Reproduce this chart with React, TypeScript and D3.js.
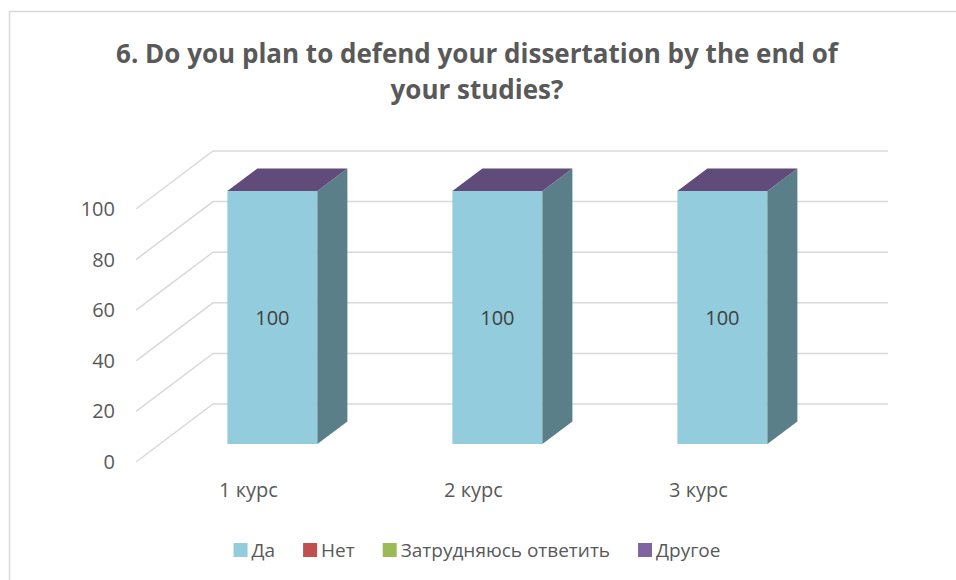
import React from 'react'
import * as d3 from 'd3'

const categories = ['1 курс', '2 курс', '3 курс']
const seriesNames = ['Да', 'Нет', 'Затрудняюсь ответить', 'Другое']
const seriesColors = ['#93cddd', '#c0504d', '#9bbb59', '#8064a2']
const yesValues = [100, 100, 100]
const noValues = [0, 0, 0]
const hardValues = [0, 0, 0]
const otherValues = [0, 0, 0]
const yTicks = [0, 20, 40, 60, 80, 100]
const title = ['6. Do you plan to defend your dissertation by the end of', 'your studies?']

const W = 956
const H = 580
const FONT = '"Open Sans", sans-serif'
const TEXT = '#595959'
const GRID = '#d9d9d9'

// 3d depth of the floor / wall
const DX = 77
const DY = -58
// bar sits in the middle of the depth
const F0 = 0.31
const F1 = 0.70

let ctx: CanvasRenderingContext2D | null = null
function textWidth(s: string, font: string) {
    if (!ctx) ctx = document.createElement('canvas').getContext('2d')
    if (!ctx) return s.length * 9
    ctx.font = font
    return ctx.measureText(s).width
}

export default function App() {
    const valuesBySeries = [yesValues, noValues, hardValues, otherValues]
    const rows = categories.map((c, i) => {
        const r: any = { cat: c }
        seriesNames.forEach((s, j) => { r[s] = valuesBySeries[j][i] })
        return r
    })
    const stacked = d3.stack().keys(seriesNames)(rows)

    const xScale = d3.scaleBand()
        .domain(categories)
        .range([136, 811])
        .paddingInner(0.6)
        .paddingOuter(0.3)
    const yScale = d3.scaleLinear()
        .domain([0, 100])
        .range([462, 209])

    const bw = xScale.bandwidth()
    const fdx = DX * F0, fdy = DY * F0
    const bdx = DX * F1, bdy = DY * F1

    // legend layout
    const legendFont = `19px ${FONT}`
    const sq = 14, sqGap = 4, itemGap = 28
    const widths = seriesNames.map(s => sq + sqGap + textWidth(s, legendFont))
    const total = d3.sum(widths) + itemGap * (widths.length - 1)
    let lx = 477 - total / 2
    const legendX = widths.map(w => { const x = lx; lx += w + itemGap; return x })

    return (
        <svg width={W} height={H} style={{ position: 'absolute', left: 0, top: 0, background: '#fff' }}
            fontFamily={FONT}>
            <rect x={9.5} y={11.5} width={W + 20} height={H + 20} fill="#fff" stroke={GRID} strokeWidth={1.5} />

            {title.map((t, i) => (
                <text key={i} x={477} y={63 + i * 36} textAnchor="middle" fontWeight="bold"
                    fontSize={26} fill={TEXT}>{t}</text>
            ))}

            {/* wall + floor gridlines */}
            {yTicks.map(v => {
                const y = yScale(v)
                return <path key={v} d={`M136,${y}L${136 + DX},${y + DY}L888,${y + DY}`}
                    fill="none" stroke={GRID} strokeWidth={1.5} />
            })}

            {yTicks.map(v => (
                <text key={v} x={115} y={yScale(v)} dy="0.35em" textAnchor="end" fontSize={20} fill={TEXT}>{v}</text>
            ))}

            {/* bars */}
            {categories.map((c, i) => {
                const x = xScale(c)!
                const segs = stacked.map((s, j) => ({ y0: s[i][0], y1: s[i][1], color: seriesColors[j], key: seriesNames[j] }))
                const topSeg = segs[segs.length - 1]
                const yT = yScale(topSeg.y1)
                return (
                    <g key={c}>
                        {segs.filter(s => s.y1 > s.y0).map(s => {
                            const yt = yScale(s.y1), yb = yScale(s.y0)
                            const side = d3.color(s.color)!.darker(1.35).formatHex()
                            return (
                                <g key={s.key}>
                                    <rect x={x + fdx} y={yt + fdy} width={bw} height={yb - yt} fill={s.color} />
                                    <path d={`M${x + bw + fdx},${yt + fdy}L${x + bw + bdx},${yt + bdy}L${x + bw + bdx},${yb + bdy}L${x + bw + fdx},${yb + fdy}Z`}
                                        fill={side} />
                                </g>
                            )
                        })}
                        <path d={`M${x + fdx},${yT + fdy}L${x + bw + fdx},${yT + fdy}L${x + bw + bdx},${yT + bdy}L${x + bdx},${yT + bdy}Z`}
                            fill={d3.color(topSeg.color)!.darker(0.8).formatHex()} />
                        {segs.filter(s => s.y1 > s.y0).map(s => (
                            <text key={s.key} x={x + fdx + bw / 2} y={(yScale(s.y0) + yScale(s.y1)) / 2 + fdy} dy="0.35em"
                                textAnchor="middle" fontSize={20} fill="#404040">{s.y1 - s.y0}</text>
                        ))}
                        <text x={x + bw / 2} y={497} textAnchor="middle" fontSize={20} fill={TEXT}>{c}</text>
                    </g>
                )
            })}

            {/* legend */}
            {seriesNames.map((s, i) => (
                <g key={s} transform={`translate(${legendX[i]},0)`}>
                    <rect x={0} y={543} width={sq} height={sq} fill={seriesColors[i]} />
                    <text x={sq + sqGap} y={550} dy="0.35em" fontSize={19} fill={TEXT}>{s}</text>
                </g>
            ))}
        </svg>
    )
}
